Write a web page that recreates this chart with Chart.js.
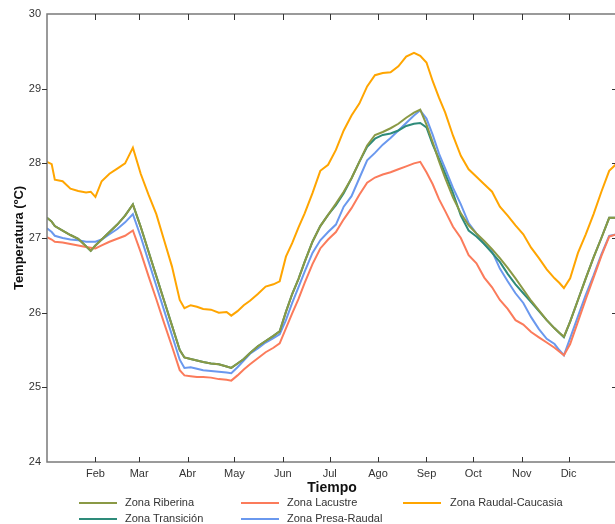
<!DOCTYPE html>
<html>
<head>
<meta charset="utf-8">
<script src="https://cdn.jsdelivr.net/npm/chart.js@4.4.1/dist/chart.umd.min.js"></script>
<style>
  html, body { margin: 0; padding: 0; background: #fff; overflow: hidden; width: 615px; height: 524px; }
  #wrap { position: relative; width: 615px; height: 524px; overflow: hidden; }
  #chart { position: absolute; left: 0; top: 0; }
  .leg { position: absolute; font: 11px "Liberation Sans", Arial, sans-serif; color: #333; line-height: 13px; white-space: nowrap; }
  .leg i { position: absolute; height: 0; border-top: 2.5px solid; }
</style>
</head>
<body>
<div id="wrap">
  <canvas id="chart" width="617" height="524"></canvas>
  <div id="legend"></div>
</div>
<script>
// day of year for every sample (shared by all series)
const days = [0, 3, 5, 10, 15, 20, 25, 28, 31, 35,
  40, 45, 50, 55, 60, 65, 70, 75, 80, 85,
  88, 92, 96, 100, 105, 110, 115, 118, 122, 126,
  130, 135, 140, 145, 149, 153, 157, 161, 165, 170,
  175, 180, 185, 190, 195, 200, 205, 210, 215, 220,
  225, 230, 235, 239, 243, 247, 251, 255, 260, 265,
  270, 275, 280, 285, 290, 295, 300, 305, 310, 315,
  320, 325, 328, 331, 335, 340, 345, 350, 355, 360,
  365];

const riberina = [27.27, 27.22, 27.16, 27.10, 27.04, 26.99, 26.89, 26.83, 26.90, 26.98,
  27.08, 27.18, 27.30, 27.45, 27.15, 26.82, 26.49, 26.16, 25.83, 25.50,
  25.40, 25.38, 25.36, 25.34, 25.32, 25.31, 25.28, 25.26, 25.32, 25.38,
  25.46, 25.55, 25.62, 25.69, 25.75, 26.01, 26.25, 26.45, 26.68, 26.95,
  27.16, 27.31, 27.46, 27.62, 27.80, 28.02, 28.24, 28.38, 28.42, 28.47,
  28.53, 28.61, 28.68, 28.72, 28.52, 28.28, 28.03, 27.80, 27.54, 27.33,
  27.17, 27.06, 26.96, 26.85, 26.73, 26.60, 26.46, 26.31, 26.16, 26.03,
  25.90, 25.79, 25.73, 25.68, 25.88, 26.17, 26.46, 26.74, 27.00, 27.27,
  27.27];

const lacustre = [27.01, 26.98, 26.95, 26.94, 26.92, 26.90, 26.88, 26.87, 26.86, 26.90,
  26.95, 26.99, 27.03, 27.10, 26.81, 26.49, 26.18, 25.86, 25.55, 25.23,
  25.16, 25.15, 25.14, 25.14, 25.13, 25.11, 25.10, 25.09, 25.16, 25.24,
  25.31, 25.39, 25.47, 25.53, 25.59, 25.79, 25.99, 26.18, 26.40, 26.65,
  26.86, 26.98, 27.08, 27.25, 27.40, 27.58, 27.74, 27.81, 27.85, 27.88,
  27.92, 27.96, 28.00, 28.02, 27.88, 27.72, 27.52, 27.36, 27.15, 27.00,
  26.77, 26.66, 26.47, 26.34, 26.17, 26.05, 25.90, 25.84, 25.74, 25.67,
  25.60, 25.53, 25.48, 25.43, 25.58, 25.88, 26.18, 26.47, 26.76, 27.02,
  27.05];

const raudalCaucasia = [28.02, 27.99, 27.78, 27.76, 27.66, 27.63, 27.61, 27.62, 27.55, 27.76,
  27.86, 27.93, 28.00, 28.21, 27.86, 27.58, 27.32, 26.97, 26.62, 26.17,
  26.06, 26.10, 26.08, 26.05, 26.04, 26.00, 26.01, 25.96, 26.02, 26.10,
  26.16, 26.25, 26.35, 26.38, 26.42, 26.75, 26.93, 27.14, 27.33, 27.60,
  27.90, 27.98, 28.18, 28.44, 28.64, 28.80, 29.03, 29.18, 29.21, 29.22,
  29.30, 29.43, 29.48, 29.44, 29.35, 29.10, 28.88, 28.68, 28.37, 28.10,
  27.92, 27.82, 27.72, 27.62, 27.42, 27.30, 27.17, 27.05, 26.87, 26.73,
  26.58, 26.46, 26.40, 26.33, 26.46, 26.80, 27.05, 27.32, 27.62, 27.90,
  28.00];

const transicion = [27.27, 27.22, 27.16, 27.10, 27.04, 26.99, 26.89, 26.83, 26.90, 26.98,
  27.08, 27.18, 27.30, 27.45, 27.15, 26.82, 26.49, 26.16, 25.83, 25.50,
  25.40, 25.38, 25.36, 25.34, 25.32, 25.31, 25.28, 25.26, 25.32, 25.38,
  25.46, 25.55, 25.62, 25.69, 25.75, 26.01, 26.25, 26.45, 26.68, 26.95,
  27.16, 27.31, 27.44, 27.60, 27.80, 28.02, 28.22, 28.33, 28.38, 28.40,
  28.44, 28.50, 28.53, 28.54, 28.48, 28.25, 28.06, 27.86, 27.60, 27.30,
  27.10, 27.02, 26.92, 26.80, 26.68, 26.52, 26.38, 26.26, 26.14, 26.02,
  25.90, 25.79, 25.73, 25.67, 25.88, 26.17, 26.46, 26.74, 27.00, 27.27,
  27.27];

const presaRaudal = [27.13, 27.08, 27.03, 27.00, 26.98, 26.97, 26.95, 26.95, 26.95, 26.98,
  27.05, 27.12, 27.21, 27.32, 27.02, 26.69, 26.36, 26.03, 25.70, 25.37,
  25.26, 25.27, 25.25, 25.23, 25.22, 25.21, 25.20, 25.19, 25.27, 25.36,
  25.45, 25.52, 25.60, 25.66, 25.71, 25.90, 26.13, 26.34, 26.55, 26.80,
  26.97, 27.08, 27.18, 27.42, 27.56, 27.80, 28.04, 28.14, 28.25, 28.34,
  28.44, 28.54, 28.64, 28.71, 28.60, 28.38, 28.13, 27.93, 27.67, 27.45,
  27.20, 27.06, 26.92, 26.82, 26.59, 26.42, 26.26, 26.13, 25.94, 25.78,
  25.65, 25.58, 25.50, 25.43, 25.66, 25.95, 26.24, 26.50, 26.78, 27.03,
  27.05];

// month ticks
const monthDays = [31, 59, 90, 120, 151, 181, 212, 243, 273, 304, 334];
const monthLabels = ['Feb', 'Mar', 'Abr', 'May', 'Jun', 'Jul', 'Ago', 'Sep', 'Oct', 'Nov', 'Dic'];
const yTicks = [24, 25, 26, 27, 28, 29, 30];

const seriesNames = ['Zona Riberina', 'Zona Lacustre', 'Zona Raudal-Caucasia', 'Zona Transición', 'Zona Presa-Raudal'];
const seriesValues = [riberina, lacustre, raudalCaucasia, transicion, presaRaudal];
const seriesColors = ['#8a9945', '#fb7b5b', '#ffa500', '#2e8b7a', '#6a98ee'];

const FONT = '"Liberation Sans", Arial, sans-serif';

// frame box + small ticks like the original figure
const framePlugin = {
  id: 'frame',
  afterDatasetsDraw(chart) {
    const { ctx, chartArea: a, scales: { x, y } } = chart;
    ctx.save();
    ctx.strokeStyle = '#7a7a7a';
    ctx.lineWidth = 1.5;
    ctx.strokeRect(a.left, a.top, a.right - a.left, a.bottom - a.top);

    ctx.strokeStyle = '#333';
    ctx.lineWidth = 1;
    ctx.beginPath();
    monthDays.forEach(d => {
      const px = Math.round(x.getPixelForValue(d)) + 0.5;
      ctx.moveTo(px, a.top); ctx.lineTo(px, a.top + 6);
      ctx.moveTo(px, a.bottom); ctx.lineTo(px, a.bottom - 5);
    });
    yTicks.slice(1, -1).forEach(v => {
      const py = Math.round(y.getPixelForValue(v)) + 0.5;
      ctx.moveTo(a.left - 5, py); ctx.lineTo(a.left, py);
      ctx.moveTo(a.right, py); ctx.lineTo(a.right - 5, py);
    });
    ctx.stroke();
    ctx.restore();
  }
};

new Chart(document.getElementById('chart'), {
  type: 'line',
  data: {
    datasets: seriesNames.map((name, i) => ({
      label: name,
      data: days.map((d, k) => ({ x: d, y: seriesValues[i][k] })),
      borderColor: seriesColors[i],
      backgroundColor: seriesColors[i],
      borderWidth: 2,
      pointRadius: 0,
      tension: 0
    }))
  },
  options: {
    responsive: false,
    animation: false,
    devicePixelRatio: 1,
    layout: { padding: { top: 14, right: 0, bottom: 0, left: 0 } },
    plugins: { legend: { display: false }, tooltip: { enabled: false } },
    scales: {
      x: {
        type: 'linear',
        min: 0,
        max: 365,
        grid: { display: false, drawTicks: false },
        border: { display: false },
        afterBuildTicks: s => { s.ticks = monthDays.map(v => ({ value: v })); },
        afterFit: s => { s.height = 62; },
        ticks: {
          padding: 5,
          color: '#333',
          font: { family: FONT, size: 11 },
          maxRotation: 0,
          autoSkip: false,
          callback: v => monthLabels[monthDays.indexOf(v)]
        },
        title: {
          display: true,
          text: 'Tiempo',
          color: '#111',
          font: { family: FONT, size: 14, weight: 'bold' },
          padding: { top: 0, bottom: 27 }
        }
      },
      y: {
        min: 24,
        max: 30,
        grid: { display: false, drawTicks: false },
        border: { display: false },
        afterBuildTicks: s => { s.ticks = yTicks.map(v => ({ value: v })); },
        afterFit: s => { s.width = 47; },
        ticks: {
          padding: 6,
          color: '#333',
          font: { family: FONT, size: 11 }
        },
        title: {
          display: true,
          text: 'Temperatura (ºC)',
          color: '#111',
          font: { family: FONT, size: 13, weight: 'bold' },
          padding: { top: 12, bottom: 0 }
        }
      }
    }
  },
  plugins: [framePlugin]
});

// legend, three columns like the figure
const legendPos = [
  { line: 79, text: 125, y: 503 },
  { line: 241, text: 287, y: 503 },
  { line: 403, text: 450, y: 503 },
  { line: 79, text: 125, y: 519 },
  { line: 241, text: 287, y: 519 }
];
const legend = document.getElementById('legend');
seriesNames.forEach((name, i) => {
  const p = legendPos[i];
  const line = document.createElement('div');
  line.className = 'leg';
  line.innerHTML = `<i style="left:${p.line}px;top:${p.y - 1}px;width:38px;border-color:${seriesColors[i]}"></i>`;
  legend.appendChild(line);
  const txt = document.createElement('div');
  txt.className = 'leg';
  txt.style.left = p.text + 'px';
  txt.style.top = (p.y - 7) + 'px';
  txt.textContent = name;
  legend.appendChild(txt);
});
</script>
</body>
</html>
